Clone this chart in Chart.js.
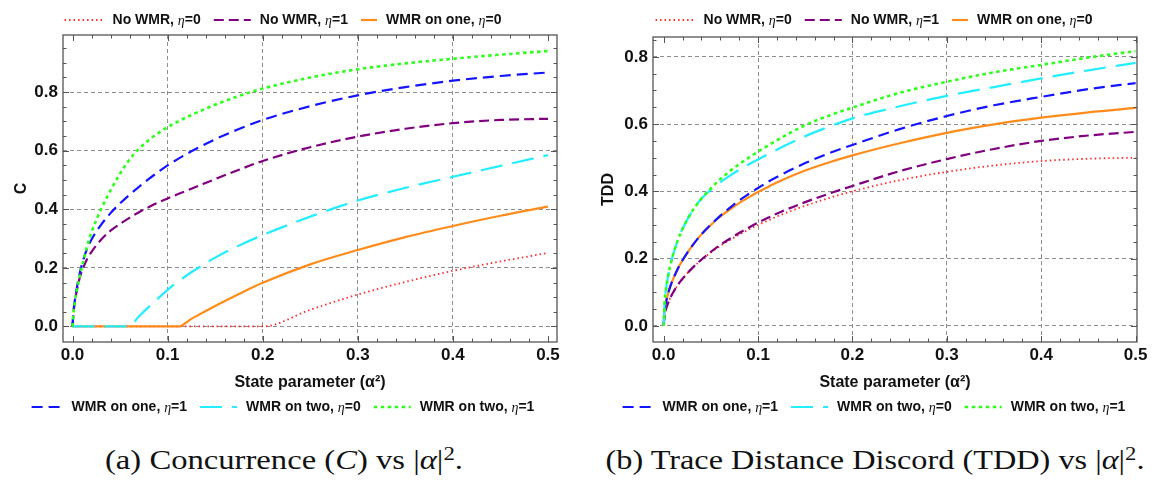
<!DOCTYPE html>
<html>
<head>
<meta charset="utf-8">
<script src="https://cdn.jsdelivr.net/npm/chart.js@4.4.0/dist/chart.umd.min.js"></script>
<style>
  html, body { margin: 0; padding: 0; background: #fff; }
  body { width: 1153px; height: 485px; position: relative; overflow: hidden; }
  canvas { position: absolute; top: 0; }
  .cap { position: absolute; top: 460px; white-space: nowrap; color: #111;
         font-family: "Liberation Serif", "DejaVu Serif", serif; font-size: 27px;
         line-height: 1; }
  .cap sup { font-size: 0.7em; vertical-align: 0.45em; line-height: 0; }
</style>
</head>
<body>
<canvas id="chartC" width="576" height="430" style="left:0"></canvas>
<canvas id="chartT" width="577" height="430" style="left:576px"></canvas>
<div class="cap" id="capC" style="left:284px">(a) Concurrence (<i>C</i>) vs |<i>α</i>|<sup>2</sup>.</div>
<div class="cap" id="capT" style="left:875px">(b) Trace Distance Discord (TDD) vs |<i>α</i>|<sup>2</sup>.</div>
<script>
// x values (state parameter alpha^2) where the curves were read
const alpha2 = [0, 0.001, 0.0025, 0.005, 0.0075, 0.01, 0.015, 0.02, 0.03, 0.04, 0.05, 0.059,
  0.07, 0.08, 0.09, 0.1, 0.111, 0.125, 0.15, 0.175, 0.2, 0.25, 0.3, 0.35, 0.4, 0.45, 0.5];

const xTicks = [0, 0.1, 0.2, 0.3, 0.4, 0.5];
const xGrid = [0.1, 0.2, 0.3, 0.4];
const cTicks = [0, 0.2, 0.4, 0.6, 0.8];
const tddTicks = [0, 0.2, 0.4, 0.6, 0.8];

const curveNames = ['No WMR', 'No WMR', 'WMR on one', 'WMR on one', 'WMR on two', 'WMR on two'];
const etaValues = [0, 1, 0, 1, 0, 1];

// Concurrence (panel a)
const cNoWmr0 = [0, 0, 0, 0, 0, 0, 0, 0, 0, 0, 0, 0, 0, 0, 0, 0, 0, 0, 0, 0, 0,
  0.057, 0.109, 0.152, 0.19, 0.222, 0.251];
const cNoWmr1 = [0, 0.045, 0.085, 0.13, 0.165, 0.19, 0.228, 0.255, 0.296, 0.327, 0.35, 0.369,
  0.39, 0.407, 0.423, 0.437, 0.452, 0.47, 0.503, 0.535, 0.565, 0.612, 0.648, 0.675, 0.694, 0.705, 0.709];
const cOne0 = [0, 0, 0, 0, 0, 0, 0, 0, 0, 0, 0, 0, 0, 0, 0, 0, 0,
  0.026, 0.07, 0.111, 0.149, 0.212, 0.261, 0.305, 0.343, 0.378, 0.409];
const cOne1 = [0, 0.05, 0.09, 0.14, 0.18, 0.213, 0.262, 0.297, 0.347, 0.387, 0.42, 0.447,
  0.477, 0.503, 0.527, 0.55, 0.572, 0.598, 0.639, 0.674, 0.705, 0.752, 0.789, 0.817, 0.839, 0.855, 0.867];
const cTwo0 = [0, 0, 0, 0, 0, 0, 0, 0, 0, 0, 0, 0,
  0.035, 0.066, 0.096, 0.125, 0.153, 0.185, 0.235, 0.276, 0.312, 0.375, 0.43, 0.473, 0.511, 0.548, 0.585];
const cTwo1 = [0, 0.045, 0.085, 0.13, 0.17, 0.205, 0.27, 0.322, 0.4, 0.465, 0.522, 0.566,
  0.607, 0.636, 0.66, 0.68, 0.7, 0.722, 0.757, 0.787, 0.812, 0.85, 0.878, 0.898, 0.914, 0.928, 0.94];

// Trace distance discord (panel b)
const tNoWmr0 = [0, 0.032, 0.05, 0.07, 0.086, 0.099, 0.122, 0.14, 0.171, 0.196, 0.218, 0.236,
  0.255, 0.271, 0.286, 0.3, 0.314, 0.331, 0.357, 0.38, 0.4, 0.433, 0.458, 0.477, 0.49, 0.497, 0.5];
const tNoWmr1 = [0, 0.032, 0.05, 0.07, 0.086, 0.099, 0.122, 0.14, 0.171, 0.197, 0.22, 0.239,
  0.259, 0.276, 0.292, 0.307, 0.322, 0.34, 0.368, 0.393, 0.416, 0.46, 0.496, 0.526, 0.55, 0.566, 0.577];
const tOne0 = [0, 0.044, 0.07, 0.099, 0.121, 0.139, 0.17, 0.195, 0.237, 0.272, 0.3, 0.323,
  0.346, 0.365, 0.382, 0.398, 0.414, 0.433, 0.462, 0.486, 0.507, 0.543, 0.574, 0.599, 0.619, 0.635, 0.648];
const tOne1 = [0, 0.044, 0.07, 0.099, 0.121, 0.139, 0.17, 0.195, 0.237, 0.272, 0.301, 0.325,
  0.351, 0.373, 0.392, 0.41, 0.429, 0.45, 0.484, 0.513, 0.538, 0.585, 0.624, 0.656, 0.681, 0.704, 0.722];
const tTwo0 = [0, 0.069, 0.109, 0.153, 0.185, 0.212, 0.255, 0.289, 0.34, 0.378, 0.405, 0.425,
  0.446, 0.464, 0.48, 0.495, 0.511, 0.531, 0.564, 0.592, 0.617, 0.653, 0.684, 0.71, 0.736, 0.76, 0.782];
const tTwo1 = [0, 0.069, 0.109, 0.153, 0.185, 0.212, 0.255, 0.289, 0.34, 0.378, 0.409, 0.434,
  0.46, 0.481, 0.5, 0.518, 0.537, 0.56, 0.597, 0.625, 0.649, 0.693, 0.726, 0.754, 0.776, 0.798, 0.817];

// line look of each curve, same order as curveNames
const lineStyles = [
  { color: '#ff2b2b', dash: [1.5, 3], width: 1.8, legendLen: 39 },
  { color: '#800080', dash: [10, 5], width: 2.2, legendLen: 37 },
  { color: '#ff8c1a', dash: [], width: 2.2, legendLen: 16 },
  { color: '#1414ff', dash: [11, 6], width: 2.2, legendLen: 31 },
  { color: '#22eeff', dash: [22, 10], width: 2.2, legendLen: 37 },
  { color: '#2bff1a', dash: [3.5, 3.5], width: 2.6, legendLen: 37 }
];

const sansFont = "'Liberation Sans', Arial, sans-serif";
Chart.defaults.font.family = sansFont;
Chart.defaults.color = '#111';

// frame with inward ticks on all four sides, plus the two legend rows
const decorPlugin = {
  id: 'decor',
  afterDatasetsDraw(chart) {
    const { ctx, chartArea: a, scales: { x, y } } = chart;
    ctx.save();
    ctx.setLineDash([]);
    ctx.strokeStyle = '#555';
    ctx.lineWidth = 1;
    for (let i = 0; i * 0.02 <= x.max + 1e-9; i++) {
      const px = Math.round(x.getPixelForValue(i * 0.02)) + 0.5;
      const len = i % 5 === 0 ? 6 : 3.5;
      ctx.beginPath();
      ctx.moveTo(px, a.bottom); ctx.lineTo(px, a.bottom - len);
      ctx.moveTo(px, a.top); ctx.lineTo(px, a.top + len);
      ctx.stroke();
    }
    for (let i = 0; i * 0.05 <= y.max + 1e-9; i++) {
      const py = Math.round(y.getPixelForValue(i * 0.05)) + 0.5;
      const len = i % 4 === 0 ? 6 : 3.5;
      ctx.beginPath();
      ctx.moveTo(a.left, py); ctx.lineTo(a.left + len, py);
      ctx.moveTo(a.right, py); ctx.lineTo(a.right - len, py);
      ctx.stroke();
    }
    ctx.lineWidth = 1.3;
    ctx.strokeRect(a.left, a.top, a.right - a.left, a.bottom - a.top);
    ctx.restore();
  },
  afterDraw(chart, args, opts) {
    const ctx = chart.ctx;
    const bold = 'bold 14px ' + sansFont;
    const ital = "italic 14px 'Liberation Serif', serif";
    opts.rows.forEach((idxs, r) => {
      const cy = opts.rowY[r];
      const items = idxs.map(i => {
        const ds = chart.data.datasets[i];
        const head = curveNames[i] + ', ';
        const tail = '=' + etaValues[i];
        ctx.font = bold;
        const wHead = ctx.measureText(head).width;
        const wTail = ctx.measureText(tail).width;
        ctx.font = ital;
        const wEta = ctx.measureText('η').width;
        return { ds, head, tail, wHead, wTail, wEta, w: ds.legendLen + 9 + wHead + wEta + wTail };
      });
      const total = items.reduce((s, it) => s + it.w, 0) + 13 * (items.length - 1);
      let x = opts.centerX - total / 2;
      items.forEach(it => {
        ctx.save();
        ctx.strokeStyle = it.ds.borderColor;
        ctx.lineWidth = it.ds.borderWidth;
        ctx.setLineDash(it.ds.borderDash);
        ctx.beginPath();
        ctx.moveTo(x, cy); ctx.lineTo(x + it.ds.legendLen, cy);
        ctx.stroke();
        ctx.restore();
        let tx = x + it.ds.legendLen + 9;
        ctx.fillStyle = '#111';
        ctx.textBaseline = 'middle';
        ctx.textAlign = 'left';
        ctx.font = bold; ctx.fillText(it.head, tx, cy); tx += it.wHead;
        ctx.font = ital; ctx.fillText('η', tx, cy + 1); tx += it.wEta;
        ctx.font = bold; ctx.fillText(it.tail, tx, cy);
        x += it.w + 13;
      });
    });
  }
};

function buildChart(id, series, yTicks, geo) {
  const datasets = series.map((vals, i) => ({
    label: curveNames[i] + ', η=' + etaValues[i],
    data: alpha2.map((a, k) => ({ x: a, y: vals[k] })),
    borderColor: lineStyles[i].color,
    borderDash: lineStyles[i].dash,
    borderWidth: lineStyles[i].width,
    legendLen: lineStyles[i].legendLen,
    borderCapStyle: 'butt',
    pointRadius: 0,
    fill: false,
    cubicInterpolationMode: 'monotone',
    order: series.length - i
  }));

  new Chart(document.getElementById(id), {
    type: 'line',
    data: { datasets },
    plugins: [decorPlugin],
    options: {
      responsive: false,
      animation: false,
      devicePixelRatio: 1,
      layout: { padding: { top: geo.top, right: geo.padRight, bottom: 30, left: 0 } },
      plugins: {
        legend: { display: false },
        tooltip: { enabled: false },
        decor: { rows: [[0, 1, 2], [3, 4, 5]], rowY: [20, 407], centerX: geo.legendX }
      },
      scales: {
        x: {
          type: 'linear',
          min: geo.xMin,
          max: geo.xMax,
          afterBuildTicks: s => { s.ticks = xTicks.map(v => ({ value: v })); },
          afterFit: s => { s.height = 58; s.paddingLeft = 0; s.paddingRight = 0; },
          ticks: { padding: 3, font: { size: 17, weight: 'bold' }, callback: v => v.toFixed(1) },
          grid: {
            lineWidth: 1, drawTicks: false,
            color: c => xGrid.some(g => Math.abs(g - c.tick.value) < 1e-9) ? '#8e8e8e' : 'rgba(0,0,0,0)'
          },
          border: { display: false, dash: [4, 3] },
          title: {
            display: true, text: 'State parameter (α²)',
            font: { size: 16, weight: 'bold' }, padding: { top: 0, bottom: 8 }
          }
        },
        y: {
          type: 'linear',
          min: geo.yMin,
          max: geo.yMax,
          afterBuildTicks: s => { s.ticks = yTicks.map(v => ({ value: v })); },
          afterFit: s => { s.width = geo.axisW; s.paddingTop = 0; s.paddingBottom = 0; },
          ticks: { padding: 5, font: { size: 17, weight: 'bold' }, callback: v => v.toFixed(1) },
          grid: { color: '#8e8e8e', lineWidth: 1, drawTicks: false },
          border: { display: false, dash: [4, 3] },
          title: {
            display: true, text: geo.yTitle,
            font: { size: 16, weight: 'bold' }, padding: { top: geo.titlePad, bottom: 0 }
          }
        }
      }
    }
  });
}

buildChart('chartC', [cNoWmr0, cNoWmr1, cOne0, cOne1, cTwo0, cTwo1], cTicks, {
  top: 35, padRight: 19, axisW: 63, xMin: -0.01, xMax: 0.5095,
  yMin: -0.053, yMax: 0.995, yTitle: 'C', titlePad: 12, legendX: 283
});

buildChart('chartT', [tNoWmr0, tNoWmr1, tOne0, tOne1, tTwo0, tTwo1], tddTicks, {
  top: 37, padRight: 16, axisW: 77, xMin: -0.0113, xMax: 0.5015,
  yMin: -0.048, yMax: 0.859, yTitle: 'TDD', titlePad: 23, legendX: 298
});

// stretch the captions to the widths they have in the original figure
[['capC', 358], ['capT', 539]].forEach(([id, target]) => {
  const el = document.getElementById(id);
  const w = el.getBoundingClientRect().width;
  el.style.transform = 'translate(-50%, -50%) scaleX(' + (target / w).toFixed(3) + ')';
});
</script>
</body>
</html>
